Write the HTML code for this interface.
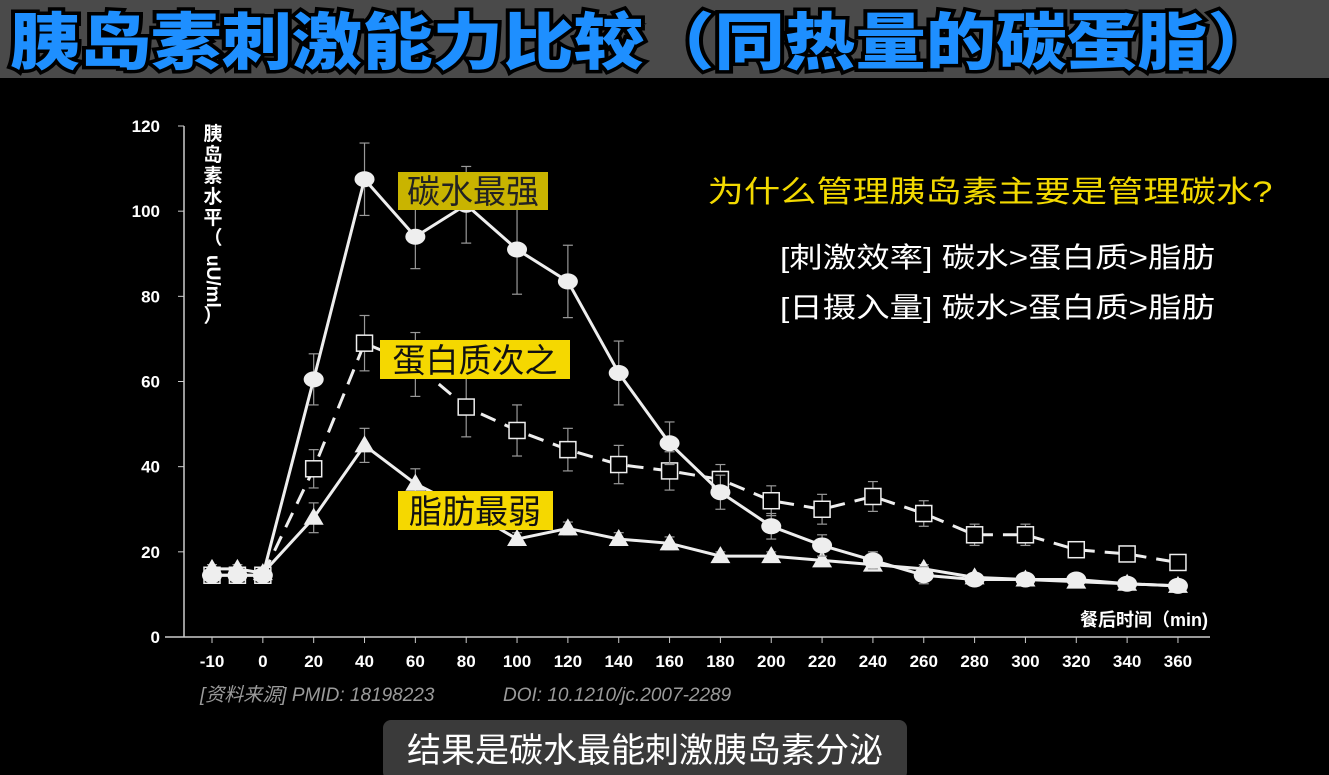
<!DOCTYPE html>
<html><head><meta charset="utf-8"><style>
html,body{margin:0;padding:0;background:#000;width:1329px;height:775px;overflow:hidden}
svg{display:block}
text{font-family:"Liberation Sans","Noto Sans CJK SC",sans-serif}
</style></head><body>
<svg id="chart" width="1329" height="775" viewBox="0 0 1329 775">
<rect x="0" y="0" width="1329" height="78" fill="#4a4a4a"/>
<text x="10" y="64" font-size="62" font-weight="900" fill="#1e8fff" stroke="#000" stroke-width="7" paint-order="stroke" textLength="1268" lengthAdjust="spacingAndGlyphs">胰岛素刺激能力比较（同热量的碳蛋脂）</text>
<g id="axes"></g>
<g id="series"></g>
<g fill="#fff" font-size="19" font-weight="bold">
<text x="213" y="140" text-anchor="middle">胰</text>
<text x="213" y="161" text-anchor="middle">岛</text>
<text x="213" y="182" text-anchor="middle">素</text>
<text x="213" y="203" text-anchor="middle">水</text>
<text x="213" y="224" text-anchor="middle">平</text>
<text x="213" y="244" text-anchor="middle">（</text>
<text transform="translate(207,255) rotate(90)" font-size="19">uU/ml</text>
<text x="213" y="322" text-anchor="middle">）</text>
</g>
<text x="1208" y="626" text-anchor="end" font-size="18" font-weight="bold" fill="#fff">餐后时间（min)</text>
<rect x="398" y="172" width="150" height="38" fill="#c9b400"/>
<text x="473" y="203" text-anchor="middle" font-size="33" fill="#222">碳水最强</text>
<rect x="380" y="340" width="190" height="39" fill="#f5d800"/>
<text x="475" y="372" text-anchor="middle" font-size="33" fill="#111">蛋白质次之</text>
<rect x="398" y="491" width="155" height="39" fill="#f5d800"/>
<text x="475" y="523" text-anchor="middle" font-size="33" fill="#111">脂肪最弱</text>
<text x="990" y="202" text-anchor="middle" font-size="30" fill="#f2d900" textLength="565" lengthAdjust="spacingAndGlyphs">为什么管理胰岛素主要是管理碳水?</text>
<text x="780" y="267" font-size="28" fill="#fff" textLength="435" lengthAdjust="spacingAndGlyphs">[刺激效率] 碳水&gt;蛋白质&gt;脂肪</text>
<text x="780" y="317" font-size="28" fill="#fff" textLength="435" lengthAdjust="spacingAndGlyphs">[日摄入量] 碳水&gt;蛋白质&gt;脂肪</text>
<g font-size="19" font-style="italic" fill="#9a9a9a">
<text x="200" y="701">[资料来源]  PMID: 18198223</text>
<text x="503" y="701">DOI: 10.1210/jc.2007-2289</text>
</g>
<rect x="383" y="720" width="524" height="60" rx="8" fill="#3a3a3a"/>
<text x="645" y="762" text-anchor="middle" font-size="34" fill="#fff">结果是碳水最能刺激胰岛素分泌</text>
</svg>
<script>
const times = [-10,-5,0,20,40,60,80,100,120,140,160,180,200,220,240,260,280,300,320,340,360];
const tickLabels = [-10,0,20,40,60,80,100,120,140,160,180,200,220,240,260,280,300,320,340,360];
const yTicks = [0,20,40,60,80,100,120];
const carb = [14.5,14.5,14.5,60.5,107.5,94,101.5,91,83.5,62,45.5,34,26,21.5,18,14.5,13.5,13.5,13.5,12.5,12];
const carbErr = [1,1,1,6,8.5,7.5,9,10.5,8.5,7.5,5,4,3,2.5,2,2,1.5,1,1,1,1];
const protein = [14.5,14.5,14.5,39.5,69,64,54,48.5,44,40.5,39,37,32,30,33,29,24,24,20.5,19.5,17.5];
const proteinErr = [1,1,1,4.5,6.5,7.5,7,6,5,4.5,4.5,3.5,3.5,3.5,3.5,3,2.5,2.5,1.5,1.5,1];
const fat = [16,16,15,28,45,36,30,23,25.5,23,22,19,19,18,17,16,14,13.5,13,12.5,12];
const fatErr = [1,1,1,3.5,4,3.5,3,1.5,1.5,1.5,1.5,1,1,1,1,1,1,1,1,1,1];

const NS='http://www.w3.org/2000/svg';
function xs(t){const idx = t<0 ? (t+10)/10 : 1+t/20; return 212+idx*50.84;}
function ys(v){return 637-v*(511/120);}
function mk(tag,attrs,parent){const e=document.createElementNS(NS,tag);for(const k in attrs)e.setAttribute(k,attrs[k]);parent.appendChild(e);return e;}
const axes=document.getElementById('axes'), ser=document.getElementById('series');
let a=mk('line',{x1:184,y1:126,x2:184,y2:637,stroke:'#ccc','stroke-width':1.5},axes);


a=mk('line',{x1:165,y1:637,x2:1210,y2:637,stroke:'#ccc','stroke-width':1.5},axes);


yTicks.forEach(v=>{
  mk('line',{x1:178,y1:ys(v),x2:184,y2:ys(v),stroke:'#ccc'},axes);
  const t=mk('text',{x:160,y:ys(v)+6,'text-anchor':'end','font-size':17,'font-weight':'bold',fill:'#fff'},axes);
  t.textContent=v;
  
  
});
tickLabels.forEach(v=>{
  mk('line',{x1:xs(v),y1:637,x2:xs(v),y2:643,stroke:'#ccc'},axes);
  const t=mk('text',{x:xs(v),y:667,'text-anchor':'middle','font-size':17,'font-weight':'bold',fill:'#fff'},axes);
  t.textContent=v;
  
  
});
function drawSeries(name,vals,errs,dash,shape){
  const g=mk('g',{},ser);
  
  
  vals.forEach((v,i)=>{
    const x=xs(times[i]),e=errs[i];
    mk('line',{x1:x,y1:ys(v+e),x2:x,y2:ys(v-e),stroke:'#999','stroke-width':1.2},g);
    mk('line',{x1:x-5,y1:ys(v+e),x2:x+5,y2:ys(v+e),stroke:'#999','stroke-width':1.2},g);
    mk('line',{x1:x-5,y1:ys(v-e),x2:x+5,y2:ys(v-e),stroke:'#999','stroke-width':1.2},g);
  });
  const pts=vals.map((v,i)=>xs(times[i])+','+ys(v)).join(' ');
  const pl=mk('polyline',{points:pts,fill:'none',stroke:'#eee','stroke-width':3,'stroke-dasharray':dash},g);
  
  
  vals.forEach((v,i)=>{
    const x=xs(times[i]),y=ys(v);let m;
    if(shape==='circle') m=mk('ellipse',{cx:x,cy:y,rx:10,ry:8,fill:'#eee'},g);
    else if(shape==='square') m=mk('rect',{x:x-8,y:y-8,width:16,height:16,fill:'#000',stroke:'#eee','stroke-width':1.5},g);
    else m=mk('polygon',{points:`${x},${y-10} ${x-10},${y+7} ${x+10},${y+7}`,fill:'#eee'},g);
    
    
  });
}
drawSeries('protein',protein,proteinErr,'16 10','square');
drawSeries('fat',fat,fatErr,'none','triangle');
drawSeries('carb',carb,carbErr,'none','circle');
</script>
</body></html>
